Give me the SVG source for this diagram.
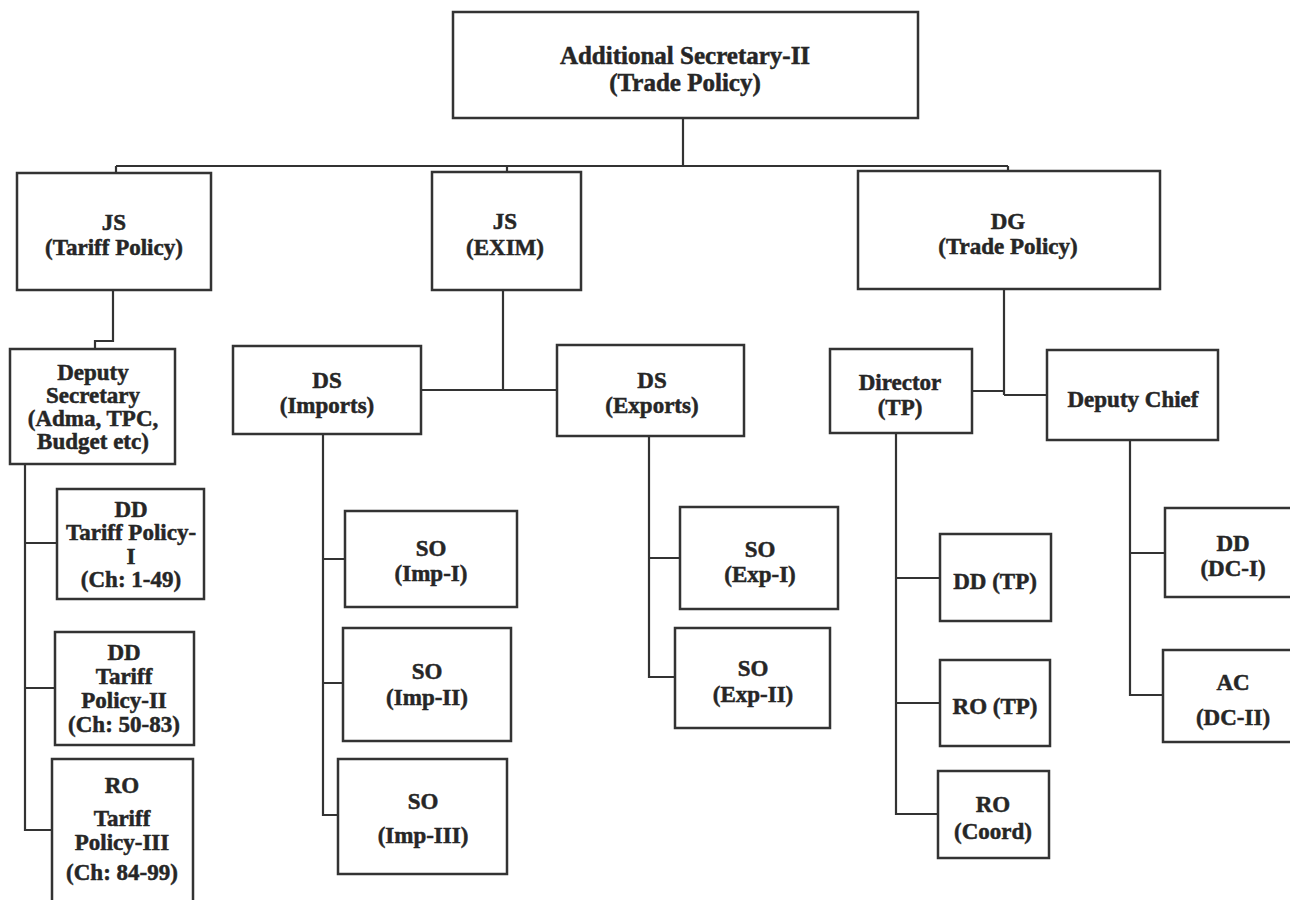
<svg xmlns="http://www.w3.org/2000/svg" width="1290" height="900" viewBox="0 0 1290 900">
<style>
.b{fill:#fff;stroke:#333;stroke-width:2.5}
.c{fill:none;stroke:#333;stroke-width:2.2}
text{font-weight:bold;font-size:23px;fill:#262626;stroke:#262626;stroke-width:0.5;text-anchor:middle;dominant-baseline:central}
.t{font-size:25px}
</style>
<rect width="1290" height="900" fill="#fff"/>
<g id="connectors">
<path class="c" d="M683,118 V166 M116,166 H1008 M116,166 V173 M507,166 V172 M1008,166 V171"/>
<path class="c" d="M113,290 V341 H95 V349"/>
<path class="c" d="M25,464 V830 H52 M25,543 H57 M25,688 H55"/>
<path class="c" d="M503,290 V390 M421,390 H557"/>
<path class="c" d="M323,434 V815 H338 M323,559 H345 M323,683 H343"/>
<path class="c" d="M649,436 V677 H675 M649,558 H680"/>
<path class="c" d="M1004,289 V395 M972,391 H1004 M1004,395 H1047"/>
<path class="c" d="M896,433 V814 H938 M896,578 H940 M896,703 H940"/>
<path class="c" d="M1130,440 V695 H1163 M1130,553 H1165"/>
</g>
<g font-family="'Liberation Serif', 'Times New Roman', 'DejaVu Serif', serif">
<g id="as2"><rect class="b" x="453" y="12" width="465" height="106"/><text class="t" x="685" y="55">Additional Secretary-II</text><text class="t" x="685" y="82">(Trade Policy)</text></g>
<g id="js-tariff"><rect class="b" x="17" y="173" width="194" height="117"/><text x="114" y="222">JS</text><text x="114" y="247">(Tariff Policy)</text></g>
<g id="js-exim"><rect class="b" x="432" y="172" width="149" height="118"/><text x="505" y="221">JS</text><text x="505" y="247">(EXIM)</text></g>
<g id="dg"><rect class="b" x="858" y="171" width="302" height="118"/><text x="1008" y="221">DG</text><text x="1008" y="246">(Trade Policy)</text></g>
<g id="dep-sec"><rect class="b" x="10" y="349" width="165" height="115"/><text x="93" y="372">Deputy</text><text x="93" y="395">Secretary</text><text x="93" y="418">(Adma, TPC,</text><text x="93" y="441">Budget etc)</text></g>
<g id="dd-tp1"><rect class="b" x="57" y="489" width="147" height="110"/><text x="131" y="509">DD</text><text x="131" y="532">Tariff Policy-</text><text x="131" y="556">I</text><text x="131" y="579">(Ch: 1-49)</text></g>
<g id="dd-tp2"><rect class="b" x="55" y="632" width="139" height="113"/><text x="124" y="652">DD</text><text x="124" y="676">Tariff</text><text x="124" y="700">Policy-II</text><text x="124" y="724">(Ch: 50-83)</text></g>
<g id="ro-tp3"><rect class="b" x="52" y="759" width="141" height="145"/><text x="122" y="785">RO</text><text x="122" y="818">Tariff</text><text x="122" y="842">Policy-III</text><text x="122" y="872">(Ch: 84-99)</text></g>
<g id="ds-imp"><rect class="b" x="233" y="346" width="188" height="88"/><text x="327" y="380">DS</text><text x="327" y="405">(Imports)</text></g>
<g id="so-imp1"><rect class="b" x="345" y="511" width="172" height="96"/><text x="431" y="548">SO</text><text x="431" y="573">(Imp-I)</text></g>
<g id="so-imp2"><rect class="b" x="343" y="628" width="168" height="113"/><text x="427" y="671">SO</text><text x="427" y="697">(Imp-II)</text></g>
<g id="so-imp3"><rect class="b" x="338" y="759" width="169" height="115"/><text x="423" y="801">SO</text><text x="423" y="835">(Imp-III)</text></g>
<g id="ds-exp"><rect class="b" x="557" y="345" width="187" height="91"/><text x="652" y="380">DS</text><text x="652" y="405">(Exports)</text></g>
<g id="so-exp1"><rect class="b" x="680" y="507" width="158" height="102"/><text x="760" y="549">SO</text><text x="760" y="574">(Exp-I)</text></g>
<g id="so-exp2"><rect class="b" x="675" y="628" width="155" height="100"/><text x="753" y="668">SO</text><text x="753" y="694">(Exp-II)</text></g>
<g id="director"><rect class="b" x="830" y="349" width="142" height="84"/><text x="900" y="382">Director</text><text x="900" y="407">(TP)</text></g>
<g id="dep-chief"><rect class="b" x="1047" y="350" width="171" height="90"/><text x="1133" y="399">Deputy Chief</text></g>
<g id="dd-tp"><rect class="b" x="940" y="534" width="111" height="87"/><text x="995" y="581">DD (TP)</text></g>
<g id="ro-tp"><rect class="b" x="940" y="660" width="110" height="86"/><text x="995" y="706">RO (TP)</text></g>
<g id="ro-coord"><rect class="b" x="938" y="771" width="111" height="87"/><text x="993" y="804">RO</text><text x="993" y="831">(Coord)</text></g>
<g id="dd-dc1"><rect class="b" x="1165" y="508" width="140" height="89"/><text x="1233" y="543">DD</text><text x="1233" y="568">(DC-I)</text></g>
<g id="ac-dc2"><rect class="b" x="1163" y="650" width="142" height="92"/><text x="1233" y="682">AC</text><text x="1233" y="717">(DC-II)</text></g>
</g>
</svg>
